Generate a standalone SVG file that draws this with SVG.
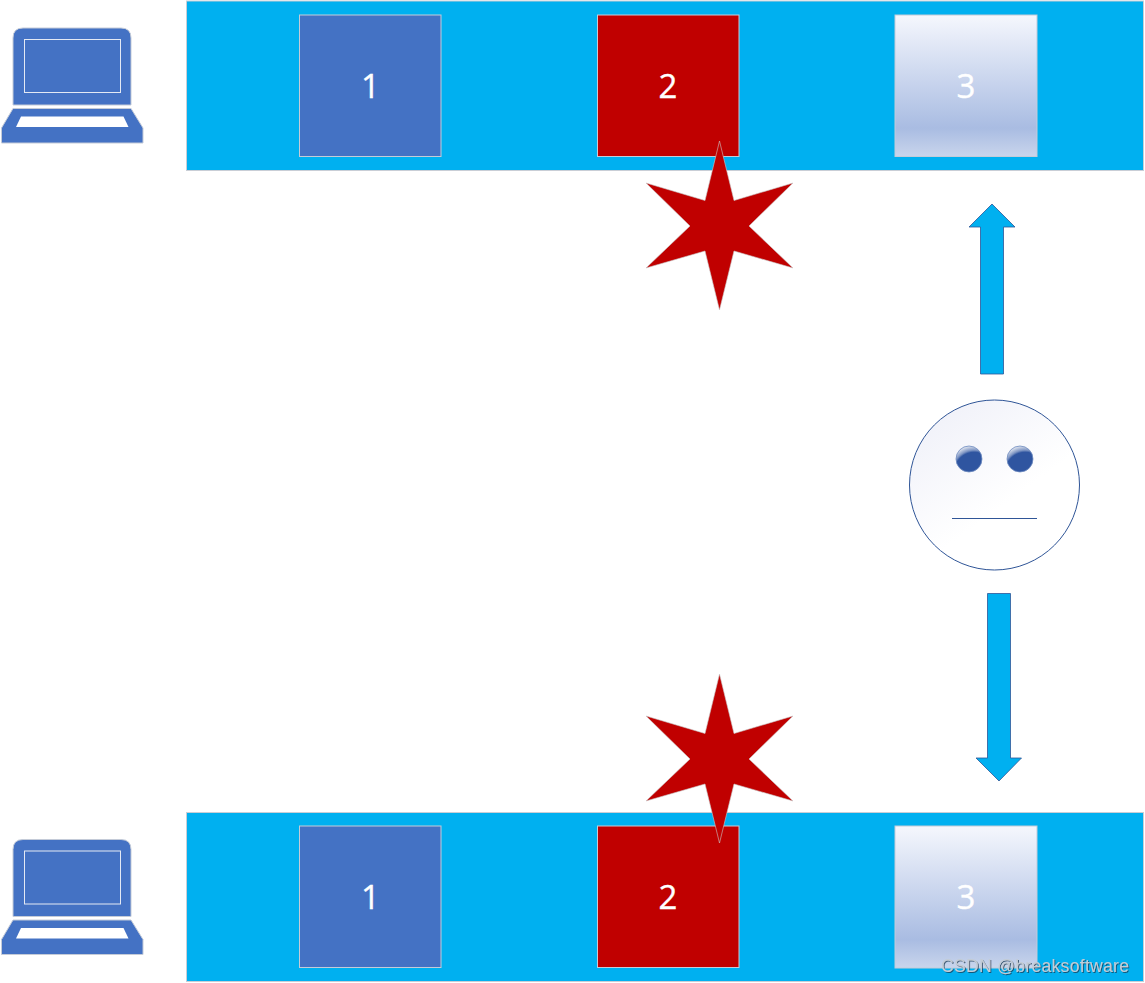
<svg xmlns="http://www.w3.org/2000/svg" width="1145" height="983" viewBox="0 0 1145 983">
<style>
.band{fill:#00b0f0;stroke:#c9ced6;stroke-width:1}
.sq{stroke:#c4cbd8;stroke-width:1}
.blue{fill:#4472c4}.red{fill:#c00000}.grad{fill:url(#sqGrad)}
.num{font-family:"Open Sans","Noto Sans",sans-serif;font-size:33px;fill:#fff;stroke:#fff;stroke-width:.35;text-anchor:middle}
.lap{fill:#4472c4;stroke:#c4cbd8;stroke-width:1}
.scr{fill:none;stroke:#e4e9f4;stroke-width:1}
.key{fill:#fff}
.star{fill:#c00000;stroke:#c9c9c9;stroke-width:.6}
.arr{fill:#00b0f0;stroke:#2f5597;stroke-width:.8}
.face{stroke:#2f5597;stroke-width:1}
.eye{fill:url(#eyeGrad);stroke:#6f8cc0;stroke-width:.8}
.wm{font-family:"Liberation Sans",Arial,sans-serif;font-size:17.6px;fill:#c3ccd6;filter:url(#wmShadow)}
</style>
<defs>
<linearGradient id="sqGrad" x1="0" y1="0" x2="0" y2="1">
<stop offset="0" stop-color="#f5f7fd"/><stop offset=".8" stop-color="#a9bce2"/><stop offset="1" stop-color="#c9d5ec"/>
</linearGradient>
<linearGradient id="faceGrad" x1=".15" y1=".05" x2=".7" y2=".8">
<stop offset="0" stop-color="#f0f1f9"/><stop offset=".75" stop-color="#fff"/>
</linearGradient>
<radialGradient id="eyeGrad" cx=".7" cy="1" r="1">
<stop offset="0" stop-color="#2f55a0"/><stop offset=".76" stop-color="#2f55a0"/><stop offset=".84" stop-color="#7f96c4"/><stop offset="1" stop-color="#d5dcea"/>
</radialGradient>
<filter id="wmShadow" x="-5%" y="-20%" width="110%" height="150%">
<feDropShadow dx="1" dy="1" stdDeviation=".6" flood-color="#1c3a52" flood-opacity=".75"/>
</filter>
<g id="laptopShape">
<path class="lap" d="M13 105V38Q13 28 23 28H121Q131 28 131 38V105Z"/>
<rect class="scr" x="24.500" y="39.500" width="96" height="53"/>
<path class="lap" d="M13 108.500H131L143 128V143H1.500V128Z"/>
<path class="key" d="M21 116.500H123.500L128.500 127H16Z"/>
</g>
<path id="starShape" class="star" d="M719.500 141L734 200.500 793 183 749 226 793 268 734 251 719.500 310 705 251 646 268 690 226 646 183 705 200.500Z"/>
</defs>

<g id="top-laptop"><use href="#laptopShape"/></g>
<g id="top-band"><rect class="band" x="186.500" y="1" width="957" height="169.500"/></g>
<g id="top-1"><rect class="sq blue" x="299.500" y="15" width="141.500" height="141.500"/><text class="num" x="370.500" y="97.500">1</text></g>
<g id="top-2"><rect class="sq red" x="597.500" y="15" width="141.500" height="141.500"/><text class="num" x="668" y="97.500">2</text></g>
<g id="top-3"><rect class="sq grad" x="895" y="15" width="142" height="141.500"/><text class="num" x="966" y="97.500">3</text></g>
<g id="top-star"><use href="#starShape"/></g>

<g id="face">
<circle class="face" cx="994.500" cy="485" r="85" fill="url(#faceGrad)"/>
<circle class="eye" cx="969" cy="459" r="13"/>
<circle class="eye" cx="1020" cy="459" r="13"/>
<line x1="952" y1="518.500" x2="1037" y2="518.500" stroke="#2f5597" stroke-width="1"/>
</g>

<g id="connectors">
<path class="arr" d="M992 204L1015 227H1003.500V374H980.500V227H969Z"/>
<path class="arr" d="M987.500 593.500H1010.500V758H1021.500L999 781 976 758H987.500Z"/>
</g>

<g id="bottom-laptop"><use href="#laptopShape" y="811.500"/></g>
<g id="bottom-band"><rect class="band" x="186.500" y="812.500" width="957" height="169"/></g>
<g id="bottom-1"><rect class="sq blue" x="299.500" y="826" width="141.500" height="141.500"/><text class="num" x="370.500" y="908.500">1</text></g>
<g id="bottom-2"><rect class="sq red" x="597.500" y="826" width="141.500" height="141.500"/><text class="num" x="668" y="908.500">2</text></g>
<g id="bottom-3"><rect class="sq grad" x="895" y="826" width="142" height="142"/><text class="num" x="966" y="908.500">3</text></g>
<g id="bottom-star"><use href="#starShape" y="533"/></g>

<text class="wm" x="941" y="972" textLength="188" lengthAdjust="spacing">CSDN @breaksoftware</text>
</svg>
